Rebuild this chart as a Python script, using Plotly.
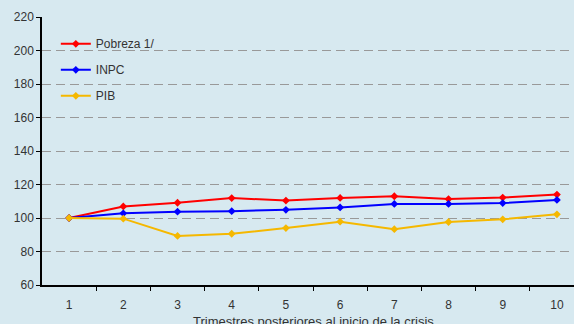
"""Pobreza, INPC y PIB en trimestres posteriores al inicio de la crisis."""

import plotly.graph_objects as go

trimestres = [1, 2, 3, 4, 5, 6, 7, 8, 9, 10]
pobreza = [100, 106.9, 109.1, 111.9, 110.4, 112.0, 113.0, 111.3, 112.2, 114.0]
inpc = [100, 102.8, 103.8, 104.1, 104.9, 106.3, 108.4, 108.4, 108.9, 110.8]
pib = [100, 99.6, 89.3, 90.6, 94.0, 97.8, 93.3, 97.6, 99.2, 102.2]
y_ticks = [60, 80, 100, 120, 140, 160, 180, 200, 220]
x_title = 'Trimestres posteriores al inicio de la crisis'

BG = '#d7e9f0'
TXT = '#333333'

fig = go.Figure()

# one legend per series so the row spacing can match the original
series = [
    ('Pobreza 1/', pobreza, '#ff0000', 'legend', 0.900),
    ('INPC', inpc, '#0000ff', 'legend2', 0.803),
    ('PIB', pib, '#f5b800', 'legend3', 0.706),
]
legends = {}
for name, vals, color, leg, ly in series:
    fig.add_trace(go.Scatter(
        x=trimestres,
        y=vals,
        mode='lines+markers',
        name=name,
        legend=leg,
        line=dict(color=color, width=2),
        marker=dict(color=color, size=6, symbol='diamond'),
    ))
    legends[leg] = dict(
        x=0.026, y=ly, xanchor='left', yanchor='middle',
        bgcolor='rgba(0,0,0,0)',
        font=dict(size=12, color=TXT),
    )

fig.update_layout(
    width=574,
    height=324,
    paper_bgcolor=BG,
    plot_bgcolor=BG,
    margin=dict(l=42, r=0, t=17, b=39),
    font=dict(family='Liberation Sans, Arial', size=12, color=TXT),
    showlegend=True,
    **legends,
)

# axis title placed by hand: the original chart's plot area runs past the right edge
fig.add_annotation(
    text=x_title, xref='paper', yref='paper', x=0.511, y=-0.138,
    xanchor='center', yanchor='middle', showarrow=False,
    font=dict(size=13, color=TXT),
)

fig.update_xaxes(
    range=[0.5, 10.315],
    tickvals=trimestres,
    ticks='',
    ticklabelstandoff=8,
    showgrid=False,
    zeroline=False,
    showline=True,
    linecolor='#000000',
    linewidth=1.5,
    minor=dict(tickvals=[t + 0.5 for t in trimestres], ticks='outside',
               ticklen=4, tickcolor='#000000', showgrid=False),
)

fig.update_yaxes(
    range=[60, 220],
    tickvals=y_ticks,
    ticks='outside',
    ticklen=4,
    tickcolor='#000000',
    showgrid=True,
    gridcolor='#999999',
    griddash='9px,5px',
    gridwidth=1,
    zeroline=False,
    showline=True,
    linecolor='#000000',
    linewidth=1.5,
)

fig.write_html("out.html", config={'displayModeBar': False},
               post_script="document.body.style.margin='0';")
